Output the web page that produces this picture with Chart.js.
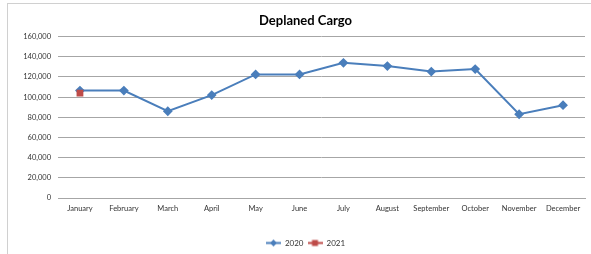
<!DOCTYPE html>
<html>
<head>
<meta charset="utf-8">
<script src="https://cdn.jsdelivr.net/npm/chart.js@4/dist/chart.umd.min.js"></script>
<style>
html,body{margin:0;padding:0;background:#fff;overflow:hidden;}
#wrap{position:absolute;left:0;top:0;width:591px;height:254px;overflow:hidden;}
#frame{position:absolute;left:7px;top:3px;width:640px;height:320px;border:1px solid #d0d0d0;pointer-events:none;}
canvas{position:absolute;left:0;top:0;}
</style>
</head>
<body>
<div id="wrap">
<div id="frame"></div>
<canvas id="c" width="591" height="254"></canvas>
</div>
<script>
const categories = ["January","February","March","April","May","June","July","August","September","October","November","December"];
const series2020 = [106500, 106500, 86000, 102000, 122500, 122500, 134000, 130800, 125300, 127800, 83000, 92000];
const series2021 = [104000, null, null, null, null, null, null, null, null, null, null, null];
const seriesNames = ["2020", "2021"];
const yTicks = [0, 20000, 40000, 60000, 80000, 100000, 120000, 140000, 160000];

const BLUE = '#4a7ebb';
const RED = '#be4b48';
const GRID = '#a6a6a6';
const FONT = 'Lato, "Open Sans", sans-serif';

function legendIcon(color, shape) {
  const cv = document.createElement('canvas');
  cv.width = 15; cv.height = 9;
  const g = cv.getContext('2d');
  g.strokeStyle = color; g.lineWidth = 2;
  g.beginPath(); g.moveTo(0, 4.5); g.lineTo(15, 4.5); g.stroke();
  g.fillStyle = color;
  if (shape === 'diamond') {
    g.beginPath(); g.moveTo(7.5, 1); g.lineTo(11, 4.5); g.lineTo(7.5, 8); g.lineTo(4, 4.5); g.closePath(); g.fill();
  } else {
    g.fillRect(4.5, 1.5, 6, 6);
  }
  return cv;
}

const icons = [legendIcon(BLUE, 'diamond'), legendIcon(RED, 'square')];

new Chart(document.getElementById('c'), {
  type: 'line',
  data: {
    labels: categories,
    datasets: [
      {
        label: seriesNames[0], data: series2020, order: 1,
        borderColor: BLUE, backgroundColor: BLUE, borderWidth: 2,
        pointStyle: 'rectRot', pointRadius: 3.5, pointBackgroundColor: BLUE, pointBorderColor: BLUE,
        tension: 0, spanGaps: false
      },
      {
        label: seriesNames[1], data: series2021, order: 0,
        borderColor: RED, backgroundColor: RED, borderWidth: 2,
        pointStyle: 'rect', pointRadius: 4.8, pointBorderWidth: 0, pointBackgroundColor: RED, pointBorderColor: RED,
        tension: 0
      }
    ]
  },
  options: {
    responsive: false,
    animation: false,
    devicePixelRatio: 1,
    layout: { padding: { left: 22, right: 2, top: 0, bottom: -3 } },
    plugins: {
      title: {
        display: true, text: 'Deplaned Cargo', color: '#000',
        font: { family: 'Lato, "Open Sans", sans-serif', size: 13, weight: 'bold', lineHeight: 1.2 },
        padding: { top: 13, bottom: 8 }
      },
      legend: {
        position: 'bottom',
        labels: {
          usePointStyle: true, pointStyleWidth: 15, boxHeight: 8,
          color: '#333', font: { family: FONT, size: 8 }, padding: 4,
          generateLabels: (chart) => chart.data.datasets.map((d, i) => ({
            text: d.label, pointStyle: icons[i], fillStyle: d.borderColor, strokeStyle: d.borderColor,
            lineWidth: 0, hidden: false, datasetIndex: i, fontColor: '#333'
          }))
        }
      },
      tooltip: { enabled: false }
    },
    scales: {
      x: {
        offset: true,
        grid: { display: false, drawTicks: false },
        border: { display: true, color: GRID, width: 1 },
        ticks: { color: '#333', font: { family: FONT, size: 7.5 }, padding: 6, maxRotation: 0, autoSkip: false },
        afterFit: (s) => { s.height = 37; }
      },
      y: {
        min: 0, max: 160000,
        afterBuildTicks: (s) => { s.ticks = yTicks.map(v => ({ value: v })); },
        grid: { color: GRID, lineWidth: 1, drawTicks: false },
        border: { display: false },
        ticks: {
          color: '#333', font: { family: FONT, size: 7.5 }, padding: 7,
          callback: (v) => v.toLocaleString('en-US')
        },
        afterFit: (s) => { s.width = 36; }
      }
    }
  }
});
</script>
</body>
</html>
